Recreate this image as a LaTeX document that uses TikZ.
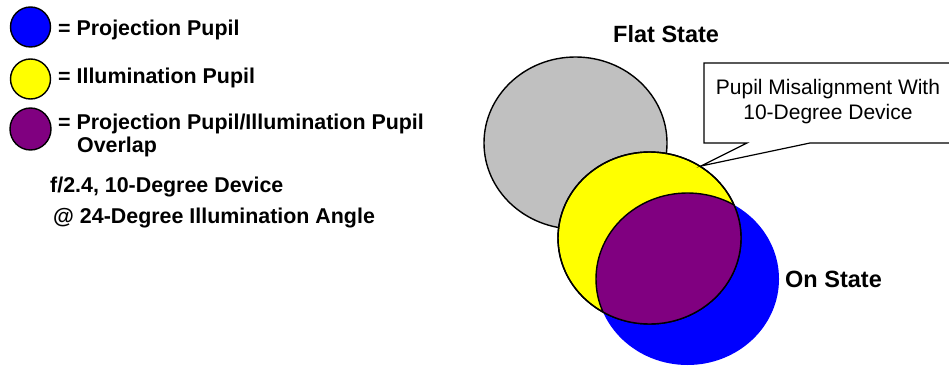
\documentclass[tikz,border=0pt]{standalone}
\usepackage{fontspec}
\usetikzlibrary{shapes.geometric}
\setmainfont{Liberation Sans}
\begin{document}
\begin{tikzpicture}[x=1pt,y=-1pt,
  outl/.style={draw=black,line width=1.4pt},
  legtxt/.style={anchor=base west,inner sep=0pt,font=\fontsize{21.4}{25}\selectfont\bfseries},
  bigtxt/.style={anchor=base west,inner sep=0pt,font=\fontsize{23.5}{28}\selectfont\bfseries},
  calltxt/.style={anchor=base,inner sep=0pt,font=\fontsize{21}{25}\selectfont}]
\useasboundingbox (0,0) rectangle (949,366);
\clip (0,0) rectangle (949,366);
\definecolor{pgray}{HTML}{C0C0C0}
\definecolor{pblue}{HTML}{0000FF}
\definecolor{pyellow}{HTML}{FFFF00}
\definecolor{ppurple}{HTML}{800080}
% legend
\node[circle,outl,fill=pblue,minimum size=40pt,inner sep=0pt] (lb) at (30.5,27) {};
\node[circle,outl,fill=pyellow,minimum size=40pt,inner sep=0pt] (ly) at (30.5,79) {};
\node[ellipse,outl,fill=ppurple,minimum width=41pt,minimum height=42pt,inner sep=0pt] (lp) at (30.5,129) {};
\node[legtxt] (t1) at (58,36) {= Projection Pupil};
\node[legtxt] (t2) at (58,83.5) {= Illumination Pupil};
\node[legtxt] (t3) at (58,129.5) {= Projection Pupil/Illumination Pupil};
\node[legtxt] (t4) at (77,153) {Overlap};
\node[legtxt] (t5) at (50,193) {f/2.4, 10-Degree Device};
\node[legtxt] (t6) at (53,223) {@ 24-Degree Illumination Angle};
% pupils
\draw[outl,fill=pgray] (575.5,143) ellipse [x radius=91.5pt,y radius=86pt];
\fill[pblue] (687.5,279) ellipse [x radius=91.5pt,y radius=86pt];
\draw[outl,fill=pyellow] (649.5,238) ellipse [x radius=91.5pt,y radius=86pt];
\begin{scope}
\clip (649.5,238) ellipse [x radius=91.5pt,y radius=86pt];
\draw[outl,fill=ppurple] (687.5,279) ellipse [x radius=91.5pt,y radius=86pt];
\end{scope}
\draw[outl] (649.5,238) ellipse [x radius=91.5pt,y radius=86pt];
\node[bigtxt] (flat) at (613,42.5) {Flat State};
\node[bigtxt] (on) at (785,287) {On State};
% callout
\coordinate (tip) at (701,166);
\draw[draw=black,line width=1.2pt,fill=white] (704,63) -- (955,63) -- (955,143) -- (810,143) -- (tip) -- (747,143) -- (704,143) -- cycle;
\node[calltxt] (c1) at (828,95) {Pupil Misalignment With};
\node[calltxt] (c2) at (828,120) {10-Degree Device};
\end{tikzpicture}
\end{document}
